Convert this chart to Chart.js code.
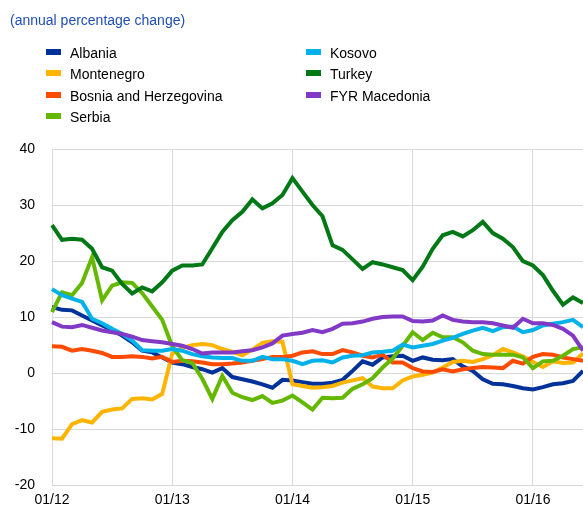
<!DOCTYPE html>
<html>
<head>
<meta charset="utf-8">
<script src="https://cdn.jsdelivr.net/npm/chart.js@4"></script>
<style>
  body { margin: 0; overflow: hidden; background: #fff; font-family: "Liberation Sans", Arial, sans-serif; }
  #wrap { position: relative; width: 583px; height: 510px; overflow: hidden; }
  #chart { position: absolute; left: 0; top: 0; }
  #title { position: absolute; left: 10px; top: 12px; font-size: 14px; color: #1f4fb4; }
  .leg { position: absolute; font-size: 14px; color: #000; line-height: 16px; white-space: nowrap; }
  .leg span { display: inline-block; width: 15px; height: 6px; margin-right: 9px; vertical-align: 3px; }
</style>
</head>
<body>
<div id="wrap">
  <canvas id="chart" width="590" height="516"></canvas>
  <div id="title">(annual percentage change)</div>
  <div id="legend"></div>
</div>
<script>
// months 01/12 .. 06/16
const months = [];
for (let y = 12; y <= 16; y++) {
    for (let m = 1; m <= 12; m++) {
        if (y === 16 && m > 6) break;
        months.push(String(m).padStart(2, "0") + "/" + y);
    }
}

const yTicks = [-20, -10, 0, 10, 20, 30, 40];

const albania = [11.8, 11.3, 11.2, 10.3, 9.4, 8.5, 7.7, 6.7, 5.5, 4.0, 3.7, 2.8,
    1.9, 1.6, 1.1, 0.7, 0.1, 0.9, -0.7, -1.1, -1.5, -2.0, -2.6, -1.2,
    -1.3, -1.6, -1.9, -1.9, -1.7, -1.2, 0.4, 2.1, 1.5, 2.8, 3.0, 3.1,
    2.2, 2.8, 2.4, 2.3, 2.5, 1.2, 0.4, -1.1, -1.9, -2.0, -2.3, -2.7,
    -2.9, -2.5, -2.0, -1.8, -1.4, 0.4];
const montenegro = [-11.6, -11.7, -9.1, -8.4, -8.8, -6.9, -6.5, -6.3, -4.6, -4.5, -4.7, -3.7,
    3.5, 4.5, 5.0, 5.2, 5.0, 4.3, 3.8, 3.2, 4.2, 5.4, 5.7, 5.6,
    -2.0, -2.3, -2.6, -2.5, -2.3, -1.7, -1.3, -0.9, -2.4, -2.7, -2.7, -1.3,
    -0.6, -0.3, 0.1, 1.0, 2.0, 2.2, 2.0, 2.5, 3.2, 4.3, 3.7, 3.0,
    2.0, 1.1, 2.1, 1.8, 1.9, 3.5];
const bosnia = [4.8, 4.7, 4.0, 4.3, 4.0, 3.6, 2.9, 2.9, 3.0, 2.9, 2.6, 2.9,
    2.0, 2.2, 2.1, 1.9, 1.6, 1.6, 1.7, 1.9, 2.2, 2.5, 2.9, 2.9,
    3.1, 3.7, 3.9, 3.4, 3.4, 4.1, 3.7, 3.1, 2.8, 3.3, 1.9, 1.9,
    0.9, 0.3, 0.2, 0.7, 0.3, 0.7, 0.9, 1.1, 1.0, 0.9, 2.2, 1.7,
    2.9, 3.4, 3.3, 2.8, 2.5, 2.2];
const serbia = [10.9, 14.4, 13.9, 16.1, 20.7, 13.0, 15.6, 16.2, 16.1, 14.3, 11.9, 9.5,
    4.8, 2.3, 1.8, -1.0, -4.6, -0.5, -3.5, -4.3, -4.8, -4.1, -5.3, -4.9,
    -4.0, -5.2, -6.5, -4.4, -4.5, -4.4, -2.8, -2.0, -0.9, 1.0, 2.6, 4.9,
    7.3, 5.9, 7.2, 6.4, 6.4, 5.5, 4.0, 3.4, 3.3, 3.3, 3.3, 2.8,
    0.9, 2.1, 2.2, 3.1, 4.3, 4.6];
const kosovo = [15.0, 13.9, 13.3, 12.7, 9.7, 8.9, 7.9, 7.0, 5.8, 4.1, 4.0, 4.0,
    4.3, 4.0, 3.4, 3.0, 2.8, 2.7, 2.7, 2.2, 2.2, 2.9, 2.5, 2.5,
    2.2, 1.6, 2.2, 2.3, 1.9, 2.8, 3.1, 3.2, 3.7, 3.8, 4.0, 5.1,
    4.6, 4.9, 5.2, 5.8, 6.3, 7.0, 7.6, 8.1, 7.5, 8.2, 8.3, 7.3,
    7.7, 8.5, 8.8, 9.1, 9.5, 8.2];
const turkey = [26.4, 23.8, 24.0, 23.8, 22.2, 18.9, 18.3, 15.9, 14.2, 15.3, 14.6, 16.2,
    18.3, 19.2, 19.2, 19.4, 22.3, 25.2, 27.3, 28.8, 31.0, 29.4, 30.3, 31.8,
    34.8, 32.4, 30.0, 28.0, 22.8, 22.0, 20.3, 18.6, 19.8, 19.4, 18.9, 18.4,
    16.6, 19.0, 22.2, 24.6, 25.2, 24.4, 25.5, 27.0, 25.0, 24.0, 22.5, 20.0,
    19.2, 17.5, 14.7, 12.2, 13.5, 12.5];
const macedonia = [9.1, 8.3, 8.2, 8.6, 8.1, 7.6, 7.3, 7.0, 6.5, 5.9, 5.7, 5.5,
    5.2, 4.9, 4.3, 3.5, 3.7, 3.7, 3.7, 3.9, 4.1, 4.6, 5.3, 6.7,
    7.0, 7.2, 7.7, 7.3, 7.9, 8.8, 8.9, 9.2, 9.7, 10.0, 10.1, 10.1,
    9.3, 9.2, 9.4, 10.3, 9.5, 9.2, 9.1, 9.1, 8.9, 8.5, 8.1, 9.7,
    8.9, 8.9, 8.6, 7.9, 6.7, 4.0];

// legend order: first column then second column
const series = [
    { label: "Albania", data: albania, color: "#003299" },
    { label: "Montenegro", data: montenegro, color: "#ffb400" },
    { label: "Bosnia and Herzegovina", data: bosnia, color: "#ff4b00" },
    { label: "Serbia", data: serbia, color: "#65b800" },
    { label: "Kosovo", data: kosovo, color: "#00b1ea" },
    { label: "Turkey", data: turkey, color: "#007816" },
    { label: "FYR Macedonia", data: macedonia, color: "#8139c6" },
];

// html legend, two columns
const legend = document.getElementById("legend");
series.forEach((s, i) => {
    const col = i < 4 ? 0 : 1;
    const row = i < 4 ? i : i - 4;
    const el = document.createElement("div");
    el.className = "leg";
    el.style.left = (col ? 306 : 46) + "px";
    el.style.top = (45 + row * 21.4) + "px";
    el.innerHTML = '<span style="background:' + s.color + '"></span>' + s.label;
    legend.appendChild(el);
});

Chart.defaults.font.family = '"Liberation Sans", Arial, sans-serif';
Chart.defaults.font.size = 14;
Chart.defaults.color = "#000";

new Chart(document.getElementById("chart"), {
    type: "line",
    data: {
        labels: months,
        datasets: series.map((s, i) => ({
            label: s.label,
            data: s.data,
            borderColor: s.color,
            backgroundColor: s.color,
            borderWidth: 4,
            pointRadius: 0,
            tension: 0,
            order: series.length - i,
        })),
    },
    options: {
        responsive: false,
        animation: false,
        layout: { padding: { top: 149, left: 0, right: 1, bottom: 0 } },
        plugins: { legend: { display: false }, tooltip: { enabled: false } },
        scales: {
            x: {
                offset: false,
                border: { display: false },
                grid: {
                    drawTicks: false,
                    color: (ctx) => (ctx.index % 12 === 0 ? "#dadada" : "transparent"),
                },
                ticks: {
                    autoSkip: false,
                    maxRotation: 0,
                    padding: 7,
                    callback: (v, i) => (i % 12 === 0 ? months[i] : ""),
                },
            },
            y: {
                min: -20,
                max: 40,
                afterFit: (scale) => { scale.width = 52; },
                afterBuildTicks: (scale) => { scale.ticks = yTicks.map((v) => ({ value: v })); },
                border: { display: false },
                grid: { drawTicks: false, color: "#dadada" },
                ticks: { padding: 17 },
            },
        },
    },
});
</script>
</body>
</html>
